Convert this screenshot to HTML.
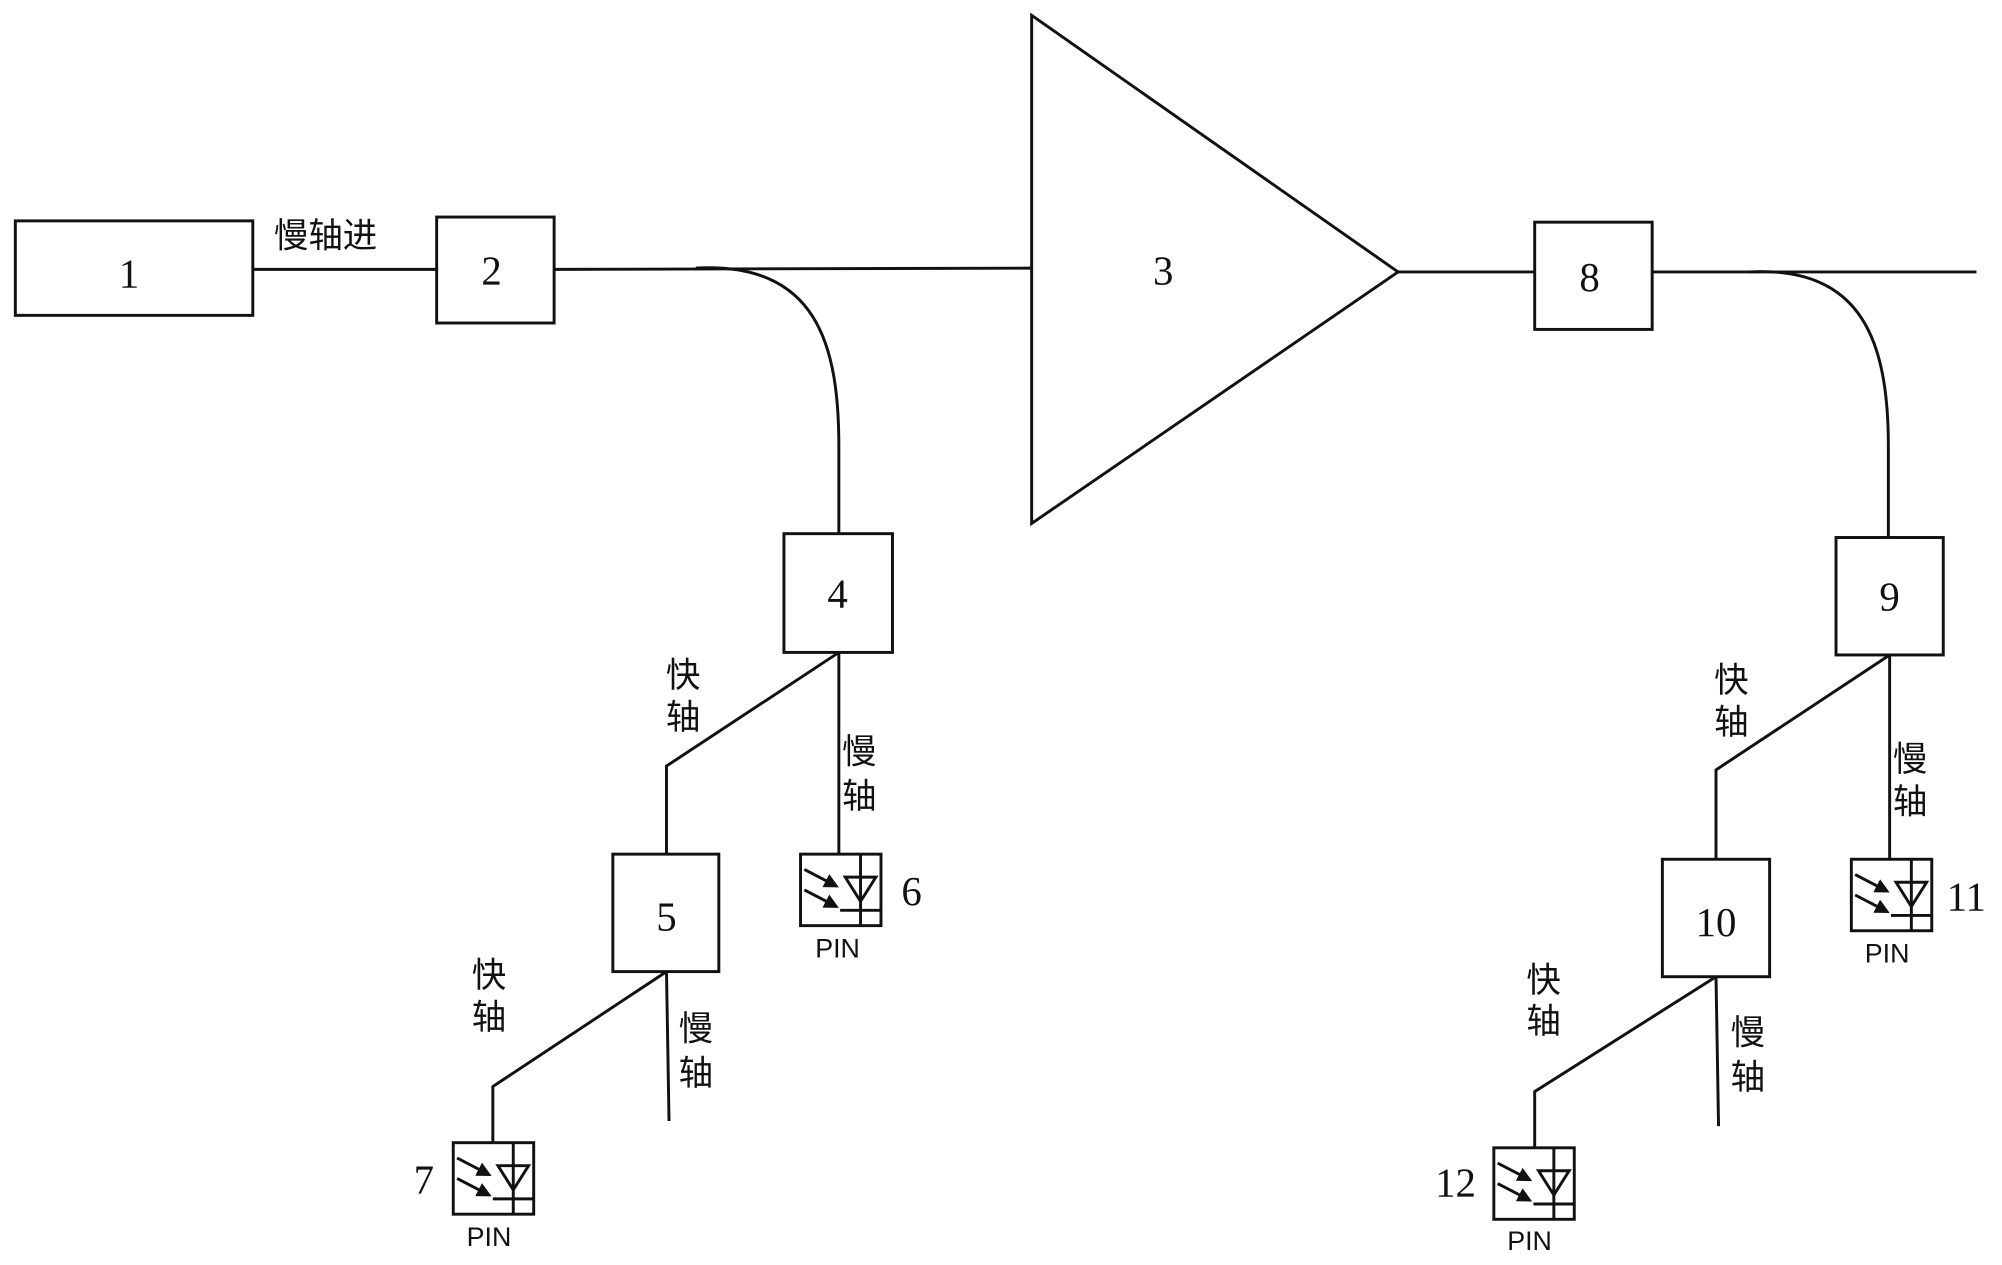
<!DOCTYPE html>
<html><head><meta charset="utf-8"><style>
html,body{margin:0;padding:0;background:#fff;}
svg{display:block;}
.n{font-family:"Liberation Serif",serif;font-size:32px;fill:#111;text-anchor:middle;}
.c{font-family:"Liberation Sans","Noto Sans CJK SC",sans-serif;font-size:27px;fill:#111;text-anchor:middle;}
.p{font-family:"Liberation Sans",sans-serif;font-size:21px;fill:#111;text-anchor:middle;}
</style></head><body>
<svg width="2002" height="1265" viewBox="0 0 1568 990.8" preserveAspectRatio="none" xmlns="http://www.w3.org/2000/svg">
<defs>
<marker id="ah" markerWidth="5" markerHeight="5" refX="4" refY="2.5" orient="auto" markerUnits="strokeWidth"><path d="M0,0 L5,2.5 L0,5z" fill="#111"/></marker>
<g id="pin" fill="none" stroke="#111" stroke-width="2.3">
<rect x="0" y="0" width="63" height="56"/>
<line x1="47" y1="0" x2="47" y2="56"/>
<line x1="31" y1="44" x2="63" y2="44"/>
<path d="M35,18 L59,18 L47,37 Z"/>
<line x1="3" y1="12" x2="28" y2="25" marker-end="url(#ah)"/>
<line x1="3" y1="28" x2="28" y2="41" marker-end="url(#ah)"/>
</g>
</defs>
<g fill="none" stroke="#111" stroke-width="2.3">
<rect x="12" y="173" width="186" height="74"/>
<line x1="198" y1="211" x2="342" y2="211"/>
<rect x="342" y="170" width="92" height="83"/>
<line x1="434" y1="211" x2="808" y2="210"/>
<path d="M545,210 C640,205 657,270 657,350 L657,418"/>
<path d="M808,12 L808,410 L1095,213 Z"/>
<line x1="1095" y1="213" x2="1202" y2="213"/>
<rect x="1202" y="174" width="92" height="84"/>
<line x1="1294" y1="213" x2="1548" y2="213"/>
<path d="M1370,213 C1460,208 1479,270 1479,350 L1479,421"/>
<rect x="614" y="418" width="85" height="93"/>
<path d="M657,511 L522,600 L522,669"/>
<line x1="657" y1="511" x2="657" y2="669"/>
<rect x="480" y="669" width="83" height="92"/>
<path d="M522,761 L386,851 L386,895"/>
<line x1="522" y1="761" x2="524" y2="878"/>
<rect x="1438" y="421" width="84" height="92"/>
<path d="M1480,513 L1344,603 L1344,673"/>
<line x1="1480" y1="513" x2="1480" y2="673"/>
<rect x="1302" y="673" width="84" height="92"/>
<path d="M1344,765 L1202,855 L1202,899"/>
<line x1="1344" y1="765" x2="1346" y2="882"/>
</g>
<use href="#pin" x="627" y="669"/>
<use href="#pin" x="355" y="895"/>
<use href="#pin" x="1450" y="673"/>
<use href="#pin" x="1170" y="899"/>
<text class="n" x="101" y="225">1</text>
<text class="n" x="385" y="223">2</text>
<text class="n" x="911" y="223">3</text>
<text class="n" x="656" y="476">4</text>
<text class="n" x="522" y="729">5</text>
<text class="n" x="714" y="709">6</text>
<text class="n" x="332" y="935">7</text>
<text class="n" x="1245" y="228">8</text>
<text class="n" x="1480" y="478">9</text>
<text class="n" x="1344" y="733">10</text>
<text class="n" x="1540" y="713">11</text>
<text class="n" x="1140" y="937">12</text>
<text class="c" x="255" y="194">慢轴进</text>
<text class="c" x="535" y="538">快</text><text class="c" x="535" y="571">轴</text>
<text class="c" x="673" y="598">慢</text><text class="c" x="673" y="633">轴</text>
<text class="c" x="383" y="773">快</text><text class="c" x="383" y="806">轴</text>
<text class="c" x="545" y="815">慢</text><text class="c" x="545" y="850">轴</text>
<text class="c" x="1356" y="542">快</text><text class="c" x="1356" y="575">轴</text>
<text class="c" x="1496" y="604">慢</text><text class="c" x="1496" y="637">轴</text>
<text class="c" x="1209" y="777">快</text><text class="c" x="1209" y="809">轴</text>
<text class="c" x="1369" y="818">慢</text><text class="c" x="1369" y="853">轴</text>
<text class="p" x="656" y="750">PIN</text>
<text class="p" x="383" y="976">PIN</text>
<text class="p" x="1478" y="754">PIN</text>
<text class="p" x="1198" y="979">PIN</text>
</svg>
</body></html>
